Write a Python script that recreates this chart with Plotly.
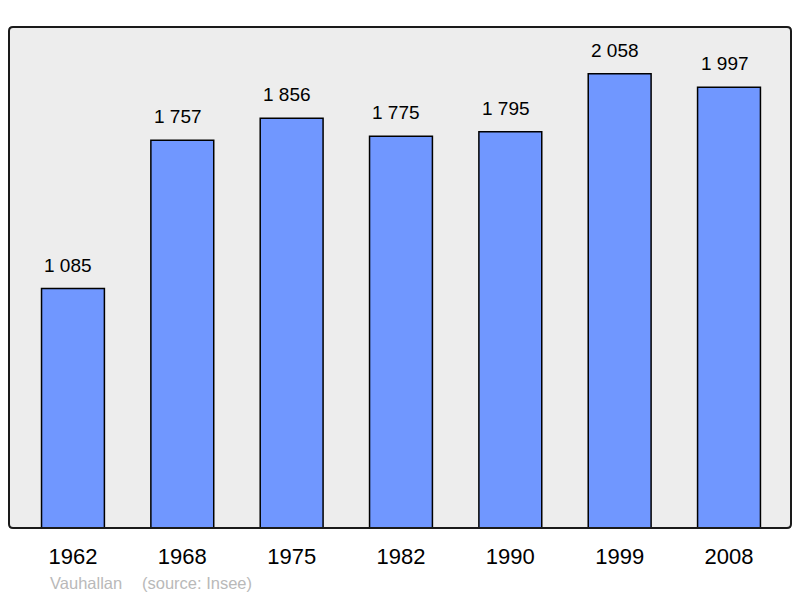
import plotly.graph_objects as go

years = ["1962", "1968", "1975", "1982", "1990", "1999", "2008"]
population = [1085, 1757, 1856, 1775, 1795, 2058, 1997]
value_labels = ["1 085", "1 757", "1 856", "1 775", "1 795", "2 058", "1 997"]

W, H = 800, 598
L, R, T, B = 9, 9, 27, 70
pw = W - L - R
ph = H - T - B

def px(x):
    return (x - L) / pw

def py(y):
    return (H - B - y) / ph

fig = go.Figure()
fig.add_trace(go.Bar(
    x=list(range(len(years))), y=population, width=0.575,
    marker=dict(color="#7097ff", line=dict(color="#000000", width=1.5)),
    hoverinfo="skip",
))

for i, (v, lab) in enumerate(zip(population, value_labels)):
    fig.add_annotation(x=i, y=v, text=lab, showarrow=False, xref="x", yref="y",
                       yanchor="middle", yshift=23.5, xshift=-4.5,
                       font=dict(family="Liberation Sans", size=19, color="#000000"))

fig.add_annotation(x=px(48), y=py(583), xref="paper", yref="paper", text="Vauhallan",
                   showarrow=False, xanchor="left", yanchor="middle",
                   font=dict(family="Liberation Sans", size=16.5, color="#b9b9b9"))
fig.add_annotation(x=px(140), y=py(583), xref="paper", yref="paper", text="(source: Insee)",
                   showarrow=False, xanchor="left", yanchor="middle",
                   font=dict(family="Liberation Sans", size=16.5, color="#b9b9b9"))

# rounded frame
r = 4
rx, ry = r / pw, r / ph
path = (f"M {rx},0 L {1-rx},0 Q 1,0 1,{ry} L 1,{1-ry} Q 1,1 {1-rx},1 "
        f"L {rx},1 Q 0,1 0,{1-ry} L 0,{ry} Q 0,0 {rx},0 Z")
fig.add_shape(type="path", xref="paper", yref="paper", path=path,
              line=dict(color="#1a1a1a", width=2), layer="above")

fig.update_layout(
    width=W, height=H,
    margin=dict(l=L, r=R, t=T, b=B),
    paper_bgcolor="#ffffff", plot_bgcolor="#ededed",
    showlegend=False,
    xaxis=dict(range=[-0.585, 6.567], showgrid=False, zeroline=False,
               tickmode="array", tickvals=list(range(len(years))), ticktext=years,
               ticks="", showline=False,
               tickfont=dict(family="Liberation Sans", size=22, color="#000000"),
               ticklabelstandoff=13),
    yaxis=dict(range=[0, 2270], showgrid=False, zeroline=False, showticklabels=False,
               ticks="", showline=False),
)

fig.write_html("out.html", config={"displayModeBar": False},
               post_script="document.body.style.margin='0';")
